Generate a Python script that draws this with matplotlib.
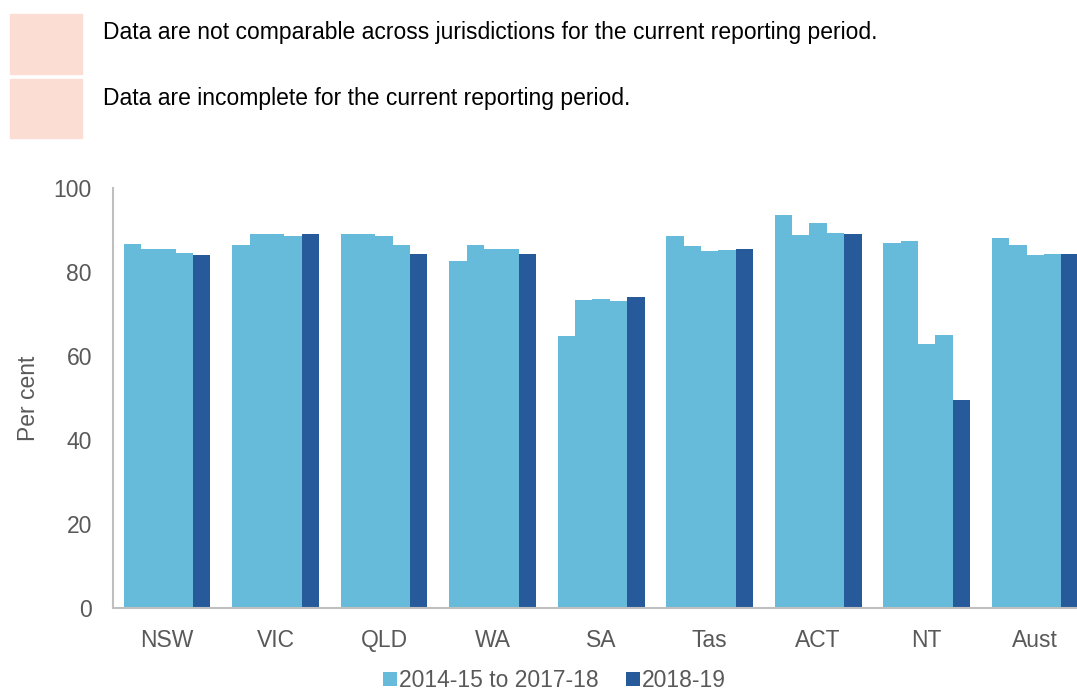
import numpy as np
import matplotlib
matplotlib.use('Agg')
import matplotlib.pyplot as plt
from matplotlib.patches import Rectangle

plt.rcParams['font.family'] = ['Liberation Sans', 'DejaVu Sans']

states = ['NSW', 'VIC', 'QLD', 'WA', 'SA', 'Tas', 'ACT', 'NT', 'Aust']
# four earlier years (2014-15 to 2017-18) and 2018-19
y1415 = [86.7, 86.4, 89.0, 82.6, 64.8, 88.5, 93.7, 87.0, 88.2]
y1516 = [85.6, 89.0, 89.0, 86.5, 73.4, 86.2, 88.8, 87.3, 86.4]
y1617 = [85.4, 89.0, 88.6, 85.6, 73.5, 84.9, 91.7, 62.9, 84.0]
y1718 = [84.5, 88.5, 86.4, 85.4, 73.1, 85.2, 89.3, 65.0, 84.4]
y1819 = [84.0, 89.0, 84.4, 84.4, 74.1, 85.4, 89.1, 49.5, 84.4]
yticks = [0, 20, 40, 60, 80, 100]

light = '#66BBDA'
dark = '#265A9A'
grey = '#595959'
fs = 16.5

fig = plt.figure(figsize=(10.77, 6.96), dpi=100)
ax = fig.add_axes([0.1047, 0.1264, 0.8953, 0.6034])

x = np.arange(len(states))
w = 0.16
series = [y1415, y1516, y1617, y1718]
for i, s in enumerate(series):
    ax.bar(x - 0.4 + w * (i + 0.5), s, width=w, color=light, linewidth=0,
           label='2014-15 to 2017-18' if i == 0 else None)
ax.bar(x - 0.4 + w * 4.5, y1819, width=w, color=dark, linewidth=0, label='2018-19')

ax.set_xlim(-0.5, 8.385)
ax.set_ylim(0, 100)
ax.set_yticks(yticks)
ax.set_xticks(x)
ax.set_xticklabels(states)
ax.tick_params(axis='both', labelsize=fs, colors=grey, length=0)
ax.tick_params(axis='x', pad=15)
ax.tick_params(axis='y', pad=15)
for sp in ['top', 'right']:
    ax.spines[sp].set_visible(False)
for sp in ['left', 'bottom']:
    ax.spines[sp].set_color('#BFBFBF')
    ax.spines[sp].set_linewidth(1.5)
ax.set_ylabel('Per cent', fontsize=fs, color=grey, labelpad=10)

leg = fig.legend(loc='center', bbox_to_anchor=(0.515, 0.022), ncol=2, frameon=False,
                 fontsize=fs, handlelength=0.6, handleheight=0.6,
                 handletextpad=0.1, columnspacing=1.2, borderpad=0.1)
for t in leg.get_texts():
    t.set_color(grey)

# notes at the top
pink = '#FCDDD3'
fig.patches.append(Rectangle((10 / 1077, 1 - 74 / 696), 72 / 1077, 60 / 696,
                             transform=fig.transFigure, color=pink))
fig.patches.append(Rectangle((10 / 1077, 1 - 138 / 696), 72 / 1077, 59 / 696,
                             transform=fig.transFigure, color=pink))
fig.text(103 / 1077, 1 - 32 / 696, 'Data are not comparable across jurisdictions for the current reporting period.',
         fontsize=16.5, color='black', va='center')
fig.text(103 / 1077, 1 - 98 / 696, 'Data are incomplete for the current reporting period.',
         fontsize=16.5, color='black', va='center')

fig.savefig('out.png', dpi=100)
